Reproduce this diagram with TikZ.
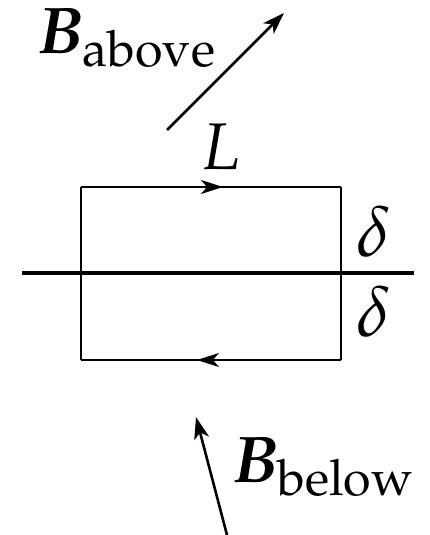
\documentclass[tikz,border=0pt]{standalone}
\usepackage{mathpazo}
\usepackage{bm}
\usetikzlibrary{arrows.meta,decorations.markings}
\begin{document}
\begin{tikzpicture}[x=1pt,y=-1pt,
  lbl/.style={inner sep=0pt,font=\fontsize{66}{70}\selectfont},
  dlbl/.style={inner sep=0pt,font=\fontsize{71}{75}\selectfont},
  field/.style={line width=2.6pt,-{Stealth[length=22pt,width=15pt,inset=6pt]}},
  loopline/.style={line width=1.4pt},
  midarrow/.style={postaction={decorate},decoration={markings,
     mark=at position #1 with {\arrow{Stealth[length=22pt,width=14pt,inset=6pt]}}}},
  surface/.style={line width=4pt}]
\useasboundingbox (0,0) rectangle (429,535);
% coordinates
\coordinate (r1) at (81,187);
\coordinate (r2) at (341,187);
\coordinate (r3) at (341,360);
\coordinate (r4) at (81,360);
\coordinate (h1) at (22,273);
\coordinate (h2) at (414,273);
\coordinate (ba1) at (167,130);
\coordinate (ba2) at (284,13);
\coordinate (bb1) at (227,535);
\coordinate (bb2) at (196,417);
% surface
\draw[surface] (h1) -- (h2);
% loop
\draw[loopline,midarrow=0.546] (r1) -- (r2);
\draw[loopline] (r2) -- (r3);
\draw[loopline,midarrow=0.554] (r3) -- (r4);
\draw[loopline] (r4) -- (r1);
% fields
\draw[field] (ba1) -- (ba2);
\draw[field] (bb1) -- (bb2);
% labels
\node[lbl,anchor=base west] (babove) at (37,53) {$\bm{B}_{\mathrm{above}}$};
\node[lbl,anchor=base] (L) at (221,169) {$L$};
\node[dlbl,anchor=base west] (d1) at (356,256) {$\delta$};
\node[dlbl,anchor=base west] (d2) at (356,336) {$\delta$};
\node[lbl,anchor=base west] (bbelow) at (232,482) {$\bm{B}_{\mathrm{below}}$};
\end{tikzpicture}
\end{document}
